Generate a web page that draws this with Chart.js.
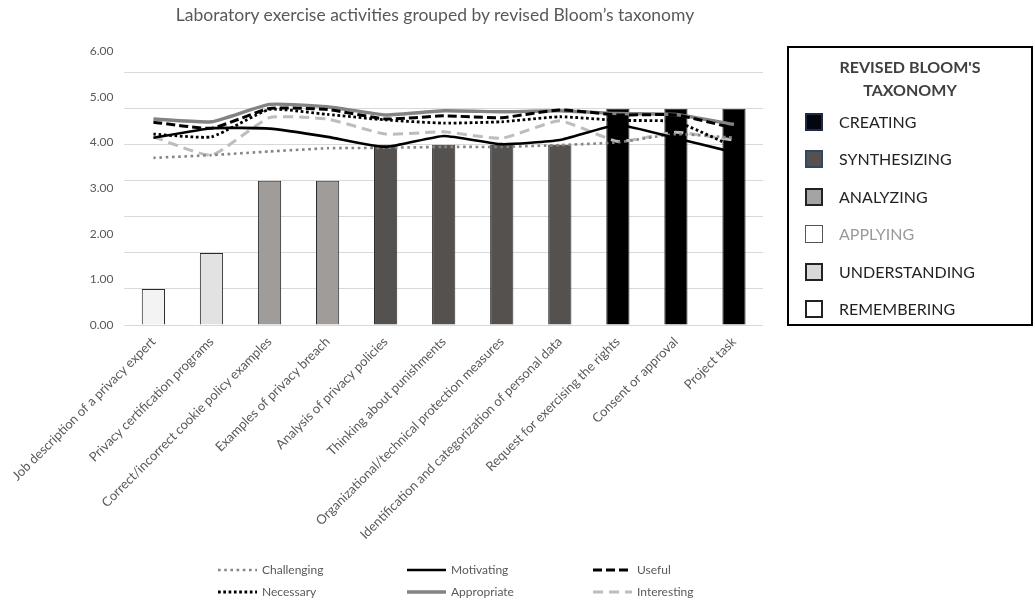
<!DOCTYPE html>
<html>
<head>
<meta charset="utf-8">
<script src="https://cdn.jsdelivr.net/npm/chart.js@4.4.0/dist/chart.umd.min.js"></script>
<style>
  body { margin: 0; background: #fff; font-family: Lato, "Open Sans", sans-serif; }
  #wrap { position: relative; width: 1035px; height: 601px; }
  #titulo { position: absolute; left: 0; top: 4px; width: 870px; text-align: center; font-size: 17.5px; color: #595959; }
  #leyenda { position: absolute; left: 787px; top: 46px; width: 246px; height: 280px; border: 2px solid #000; box-sizing: border-box; }
  #leyenda .cab { position: absolute; left: 0; width: 100%; top: 7px; text-align: center; font-weight: bold; font-size: 16px; line-height: 23px; color: #404040; }
  #leyenda .item { position: absolute; left: 16px; height: 20px; font-size: 16px; color: #222; line-height: 20px; }
  #leyenda .cuadro { position: absolute; left: 0; top: 1px; width: 18px; height: 18px; box-sizing: border-box; border: 2px solid #222; }
  #leyenda .txt { position: absolute; left: 34px; top: 0; white-space: nowrap; }
</style>
</head>
<body>
<div id="wrap">
  <canvas id="grafico" width="1035" height="601"></canvas>
  <div id="titulo">Laboratory exercise activities grouped by revised Bloom’s taxonomy</div>
  <div id="leyenda"></div>
</div>
<script>
// actividades del laboratorio
const actividades = [
  'Job description of a privacy expert',
  'Privacy certification programs',
  'Correct/incorrect cookie policy examples',
  'Examples of privacy breach',
  'Analysis of privacy policies',
  'Thinking about punishments',
  'Organizational/technical protection measures',
  'Identification and categorization of personal data',
  'Request for exercising the rights',
  'Consent or approval',
  'Project task'
];

// nivel de Bloom de cada actividad (barras)
const nivelBloom = [1, 2, 4, 4, 5, 5, 5, 5, 6, 6, 6];

// valoraciones medias (lineas)
const challenging = [3.66, 3.72, 3.80, 3.87, 3.88, 3.90, 3.90, 3.94, 4.00, 4.18, 4.10];
const motivating  = [4.10, 4.31, 4.30, 4.12, 3.90, 4.14, 3.96, 4.05, 4.38, 4.09, 3.78];
const useful      = [4.44, 4.31, 4.74, 4.72, 4.51, 4.58, 4.54, 4.71, 4.60, 4.60, 4.31];
const necessary   = [4.18, 4.12, 4.72, 4.61, 4.49, 4.42, 4.45, 4.56, 4.48, 4.45, 3.90];
const appropriate = [4.51, 4.45, 4.83, 4.78, 4.60, 4.69, 4.67, 4.69, 4.63, 4.61, 4.39];
const interesting = [4.12, 3.72, 4.54, 4.51, 4.18, 4.23, 4.09, 4.47, 4.02, 4.22, 4.05];

const nivelesLeyenda = ['CREATING', 'SYNTHESIZING', 'ANALYZING', 'APPLYING', 'UNDERSTANDING', 'REMEMBERING'];

const colorNivel = { 1: '#f3f3f3', 2: '#e2e2e2', 3: '#ffffff', 4: '#a09c99', 5: '#55514e', 6: '#000000' };

const estiloLeyenda = {
  CREATING:      { fondo: '#05050d', borde: '#1f2a48', texto: '#222' },
  SYNTHESIZING:  { fondo: '#55514e', borde: '#34456a', texto: '#222' },
  ANALYZING:     { fondo: '#a6a4a2', borde: '#222', texto: '#222' },
  APPLYING:      { fondo: '#ffffff', borde: '#555', texto: '#9a9a9a', punteado: true },
  UNDERSTANDING: { fondo: '#d9d9d9', borde: '#222', texto: '#222' },
  REMEMBERING:   { fondo: '#ffffff', borde: '#222', texto: '#222' }
};

// leyenda de la derecha
const leyenda = document.getElementById('leyenda');
leyenda.innerHTML = '<div class="cab">REVISED BLOOM\'S<br>TAXONOMY</div>';
nivelesLeyenda.forEach(function (nombre, i) {
  const e = estiloLeyenda[nombre];
  const item = document.createElement('div');
  item.className = 'item';
  item.style.top = (64 + i * 37.4) + 'px';
  item.innerHTML = '<div class="cuadro" style="background:' + e.fondo + ';border-color:' + e.borde +
    (e.punteado ? ';border-width:1.5px' : '') + '"></div><div class="txt" style="color:' + e.texto + '">' + nombre + '</div>';
  leyenda.appendChild(item);
});

function lineaDs(label, data, color, ancho, dash, orden) {
  return {
    type: 'line', label: label, data: data, yAxisID: 'y',
    borderColor: color, borderWidth: ancho, borderDash: dash,
    pointRadius: 0, tension: 0.15, fill: false, order: orden
  };
}

const datasetsLineas = [
  lineaDs('Challenging', challenging, '#858585', 2.6, [2.6, 3.6], 3),
  lineaDs('Motivating', motivating, '#000000', 2.6, [], 2),
  lineaDs('Useful', useful, '#000000', 3, [9, 4], 0),
  lineaDs('Necessary', necessary, '#000000', 2.8, [2.7, 2.6], 1),
  lineaDs('Appropriate', appropriate, '#838383', 3.4, [], 5),
  lineaDs('Interesting', interesting, '#bdbdbd', 3, [10, 6], 4)
];

// leyenda inferior dibujada en el canvas
const leyendaLineas = {
  id: 'leyendaLineas',
  afterDraw(chart) {
    const ctx = chart.ctx;
    const cols = [218, 407, 593];
    const filas = [570, 592];
    chart.data.datasets.forEach(function (ds) {
      if (ds.type !== 'line') return;
      const i = datasetsLineas.indexOf(ds);
      const x = cols[i % 3];
      const y = filas[Math.floor(i / 3)];
      ctx.save();
      ctx.strokeStyle = ds.borderColor;
      ctx.lineWidth = ds.borderWidth;
      ctx.setLineDash(ds.borderDash);
      ctx.beginPath();
      ctx.moveTo(x, y);
      ctx.lineTo(x + 39, y);
      ctx.stroke();
      ctx.setLineDash([]);
      ctx.fillStyle = '#595959';
      ctx.font = '12px Lato, sans-serif';
      ctx.textBaseline = 'middle';
      ctx.fillText(ds.label, x + 44, y);
      ctx.restore();
    });
  }
};

new Chart(document.getElementById('grafico'), {
  type: 'bar',
  data: {
    labels: actividades,
    datasets: datasetsLineas.concat([{
      type: 'bar',
      label: 'Bloom level',
      data: nivelBloom,
      yAxisID: 'y2',
      backgroundColor: nivelBloom.map(n => colorNivel[n]),
      borderColor: '#2a2a2a',
      borderWidth: 1,
      barPercentage: 0.4,
      categoryPercentage: 1,
      order: 10
    }])
  },
  options: {
    responsive: false,
    animation: false,
    layout: { padding: { left: 0, right: 272, top: 51, bottom: 0 } },
    plugins: {
      legend: { display: false },
      title: { display: false },
      tooltip: { enabled: false }
    },
    scales: {
      x: {
        offset: true,
        grid: { display: false, drawTicks: false },
        border: { display: false },
        ticks: {
          autoSkip: false, maxRotation: 45, minRotation: 45, padding: 9,
          color: '#595959', font: { size: 13, family: 'Lato' }
        },
        afterFit(scale) { scale.height = 276; }
      },
      y: {
        position: 'left',
        min: 0, max: 6,
        grid: { display: false, drawTicks: false },
        border: { display: false },
        ticks: {
          stepSize: 1, padding: 11, color: '#595959', font: { size: 12, family: 'Lato' },
          callback: v => v.toFixed(2)
        },
        afterFit(scale) { scale.width = 123; }
      },
      y2: {
        position: 'right',
        min: 0, max: 7.6,
        grid: { color: '#d9d9d9', drawTicks: false },
        border: { display: false },
        ticks: { display: false, stepSize: 1 },
        afterBuildTicks(scale) { scale.ticks = scale.ticks.filter(t => Number.isInteger(t.value)); },
        afterFit(scale) { scale.width = 0; }
      }
    }
  },
  plugins: [leyendaLineas]
});
</script>
</body>
</html>
